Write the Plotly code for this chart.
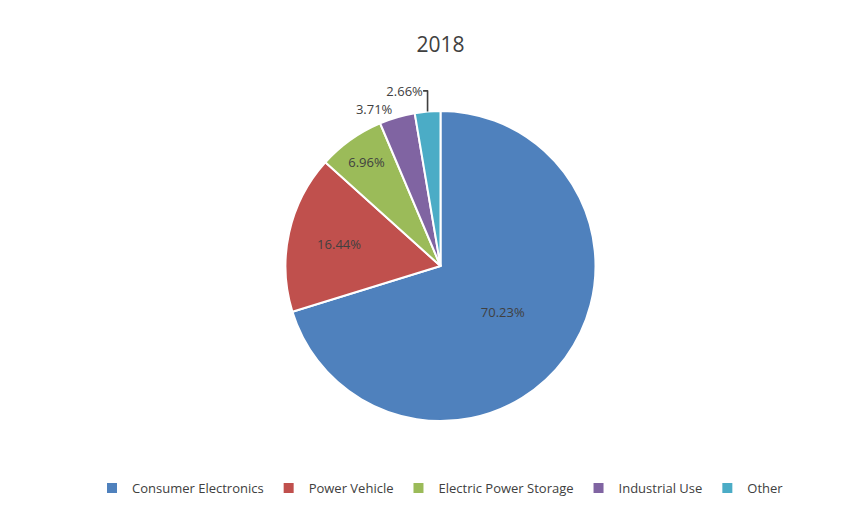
import plotly.graph_objects as go

labels = ["Consumer Electronics", "Power Vehicle", "Electric Power Storage", "Industrial Use", "Other"]
values = [70.23, 16.44, 6.96, 3.71, 2.66]
colors = ["#4F81BD", "#C0504D", "#9BBB59", "#8064A2", "#4BACC6"]
text_pos = ["inside", "inside", "inside", "outside", "outside"]

W, H = 865, 511
T, B = 103, 98

fig = go.Figure(go.Pie(
    labels=labels,
    values=values,
    sort=False,
    direction="clockwise",
    rotation=0,
    marker=dict(colors=colors, line=dict(color="white", width=2)),
    texttemplate="%{value:.2f}%",
    textposition=text_pos,
    insidetextorientation="horizontal",
    textfont=dict(size=13, color="#404040"),
    hoverinfo="label+percent",
))

fig.update_layout(
    width=W, height=H,
    margin=dict(l=0, r=0, t=T, b=B, autoexpand=False),
    paper_bgcolor="white",
    font=dict(family="Open Sans, Liberation Sans, sans-serif", color="#404040"),
    title=dict(text="2018", x=0.5, xanchor="center", y=1 - 37 / H, yanchor="middle",
               font=dict(size=21, color="#404040")),
    legend=dict(orientation="h", x=0.5, xanchor="center", yref="container",
                y=31 / H, yanchor="middle", font=dict(size=13, color="#404040"),
                itemwidth=30, tracegroupgap=0),
    showlegend=True,
)

fig.write_html("out.html")
